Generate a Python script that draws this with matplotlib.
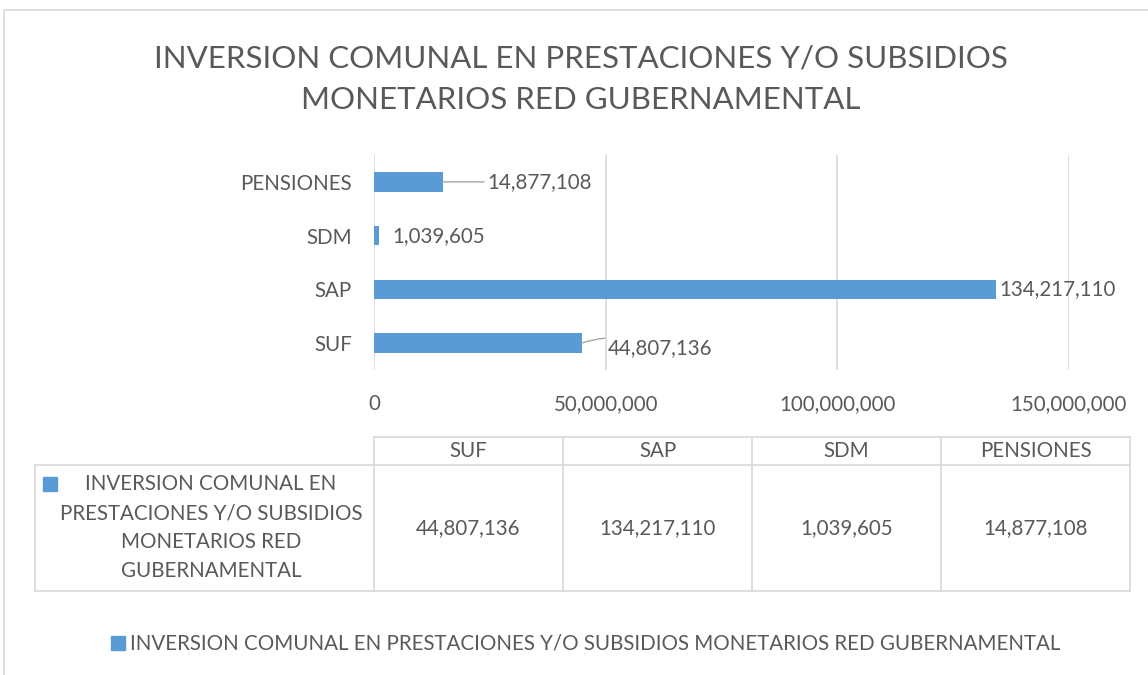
import matplotlib.pyplot as plt
from matplotlib.patches import Rectangle

categories = ["SUF", "SAP", "SDM", "PENSIONES"]
values = [44807136, 134217110, 1039605, 14877108]
xticks = [0, 50000000, 100000000, 150000000]
series_name = "INVERSION COMUNAL EN PRESTACIONES Y/O SUBSIDIOS MONETARIOS RED GUBERNAMENTAL"
series_wrapped = ["INVERSION COMUNAL EN", "PRESTACIONES Y/O SUBSIDIOS",
                  "MONETARIOS RED", "GUBERNAMENTAL"]
title = "INVERSION COMUNAL EN PRESTACIONES Y/O SUBSIDIOS\nMONETARIOS RED GUBERNAMENTAL"

BLUE = "#5B9BD5"
TXT = "#595959"
GRID = "#D9D9D9"
FONT = "Lato"
FS = 14.8
W, H = 1148, 675

plt.rcParams['font.family'] = [FONT, 'DejaVu Sans']

fig = plt.figure(figsize=(W / 100, H / 100), dpi=100)

# overlay in pixel coordinates for frame, title, table, legend
ov = fig.add_axes([0, 0, 1, 1])
ov.set_xlim(0, W)
ov.set_ylim(H, 0)
ov.axis('off')
ov.add_patch(Rectangle((4, 10), W + 10, H, fill=False, edgecolor=GRID, lw=1.2))
ov.text(581, 79, title, ha='center', va='center', fontsize=22.5, color=TXT,
        linespacing=1.6)

# bar chart
ax = fig.add_axes([374 / W, 1 - 370 / H, 695 / W, 215 / H])
ypos = range(len(categories))
ax.barh(ypos, values, height=0.36, color=BLUE)
ax.set_xlim(0, 150000000)
ax.set_ylim(-0.5, len(categories) - 0.5)
ax.set_yticks(list(ypos))
ax.set_yticklabels(categories)
ax.set_xticks(xticks)
ax.set_xticklabels([f"{t:,}" for t in xticks])
ax.tick_params(axis='both', length=0, labelsize=FS, colors=TXT)
ax.tick_params(axis='y', pad=16)
ax.tick_params(axis='x', pad=17)
for s in ax.spines.values():
    s.set_visible(False)
ax.grid(axis='x', color=GRID, lw=1.2)
ax.set_axisbelow(True)

# data labels: (dx, dy) pixel offsets from bar end, leader line or not
offsets = {"SUF": (26, -5, True), "SAP": (4, 0, False),
           "SDM": (14, 0, False), "PENSIONES": (44, 0, True)}
for i, (c, v) in enumerate(zip(categories, values)):
    dx, dy, lead = offsets[c]
    ax.annotate(f"{v:,}", xy=(v, i), xytext=(dx, dy), textcoords='offset pixels',
                ha='left', va='center', fontsize=FS, color=TXT,
                arrowprops=dict(arrowstyle='-', color='#A6A6A6', lw=1,
                                connectionstyle='arc3,rad=0.2' if dy else 'arc3',
                                shrinkA=0, shrinkB=0) if lead else None)

# data table
cols = [374 + 189 * k for k in range(len(categories) + 1)]
top, sep, bot, left = 437, 465, 591, 35
lk = dict(color=GRID, lw=1.2)
ov.plot([cols[0], cols[-1]], [top, top], **lk)
ov.plot([left, cols[-1]], [sep, sep], **lk)
ov.plot([left, cols[-1]], [bot, bot], **lk)
ov.plot([left, left], [sep, bot], **lk)
for x in cols:
    ov.plot([x, x], [top, bot], **lk)
for k, (c, v) in enumerate(zip(categories, values)):
    cx = (cols[k] + cols[k + 1]) / 2
    ov.text(cx, (top + sep) / 2, c, ha='center', va='center', fontsize=FS, color=TXT)
    ov.text(cx, (sep + bot) / 2, f"{v:,}", ha='center', va='center', fontsize=FS, color=TXT)
ov.add_patch(Rectangle((43, 477), 14, 14, color=BLUE))
for j, line in enumerate(series_wrapped):
    ov.text(211, 484 + 29 * j, line, ha='center', va='center', fontsize=FS, color=TXT)

# legend
ov.add_patch(Rectangle((111, 636), 14, 14, color=BLUE))
ov.text(130, 643, series_name, ha='left', va='center', fontsize=FS, color=TXT)

fig.savefig("out.png", dpi=100)
